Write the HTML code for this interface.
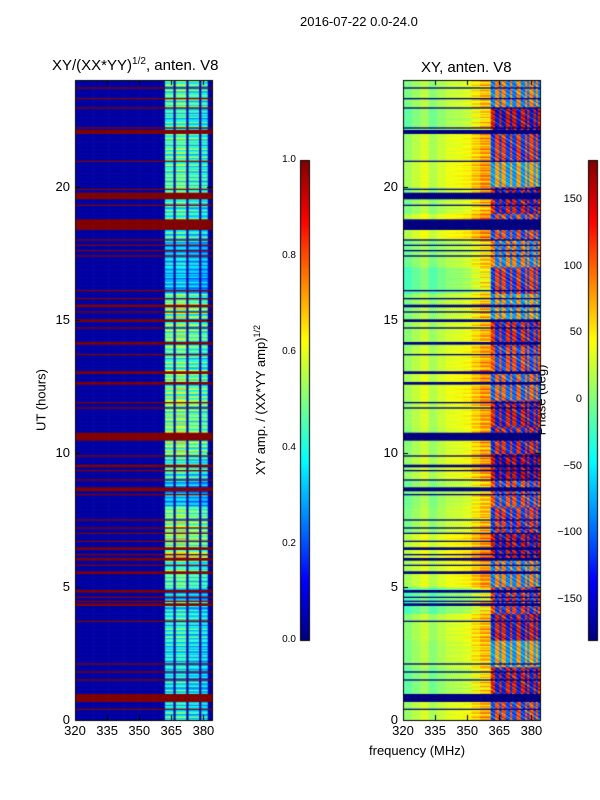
<!DOCTYPE html>
<html><head><meta charset="utf-8">
<style>
body{margin:0;background:#fff;}
#wrap{position:relative;width:600px;height:800px;font-family:"Liberation Sans",sans-serif;color:#000;overflow:hidden;}
.t{position:absolute;white-space:nowrap;}
canvas{position:absolute;}
</style></head>
<body>
<div id="wrap">
<div class="t" style="left:300px;top:14px;font-size:13px;">2016-07-22 0.0-24.0</div>
<div class="t" style="left:52px;top:56px;font-size:15px;">XY/(XX*YY)<sup style="font-size:10px">1/2</sup>, anten. V8</div>
<div class="t" style="left:421px;top:59px;font-size:15px;">XY, anten. V8</div>
<div class="t" style="left:41px;top:400px;font-size:13px;transform:translate(-50%,-50%) rotate(-90deg);">UT (hours)</div>
<div class="t" style="left:369px;top:743px;font-size:13px;">frequency (MHz)</div>
<div class="t" style="left:260px;top:400px;font-size:13px;transform:translate(-50%,-50%) rotate(-90deg);">XY amp. / (XX*YY amp)<sup style="font-size:9px">1/2</sup></div>
<div class="t" style="left:541px;top:400px;font-size:13px;transform:translate(-50%,-50%) rotate(-90deg);">Phase (deg)</div>
<canvas id="c" width="600" height="800" style="left:0;top:0"></canvas>
<div id="labels"></div>
</div>
<script>
// flagged time bands (UT hours start, end)
const bandStart=[23.7,23.3,22.95,22.2,22.0,20.95,19.9,19.55,19.3,18.4,18.0,17.8,17.6,17.4,16.1,15.8,15.5,15.3,14.95,14.7,14.1,13.7,13.0,12.6,11.9,11.7,10.5,9.9,9.5,9.35,9.0,8.6,8.45,7.5,7.2,7.0,6.7,6.4,6.2,6.0,5.8,5.5,4.8,4.6,4.45,4.3,3.7,2.1,1.8,1.5,0.7,0.4];
const bandEnd  =[23.75,23.35,23.0,22.25,22.15,21.0,19.95,19.8,19.35,18.8,18.05,17.85,17.65,17.45,16.15,15.85,15.6,15.35,15.05,14.75,14.2,13.75,13.1,12.7,11.95,11.75,10.8,9.95,9.6,9.4,9.05,8.75,8.5,7.55,7.25,7.05,6.75,6.5,6.25,6.1,5.85,5.6,4.9,4.65,4.5,4.4,3.75,2.15,1.85,1.55,1.0,0.45];
// amplitude per hour in the bright band region
const hourAmp=[0.45,0.4,0.42,0.45,0.4,0.5,0.6,0.55,0.35,0.45,0.55,0.55,0.55,0.5,0.55,0.55,0.35,0.38,0.45,0.45,0.5,0.5,0.45,0.5];
// fine modulation pattern within each hour (20 sub-rows)
const subMod=[1.0,0.7,1.2,0.8,0.6,1.1,0.9,0.7,1.2,0.8,0.9,0.6,1.1,0.75,1.0,0.65,1.15,0.85,0.7,1.05];
// frequency stripe edges (MHz) and stripe levels
const stripeLo=[361.5,367,373,378.5];
const stripeHi=[366,372,378,381.5];
const stripeAmp=[1.0,1.05,0.95,0.9];
// phase: low-freq region phase per hour, high-freq region phase per hour
const phaseLow=[20,0,10,15,-10,25,30,10,5,20,15,20,25,20,15,10,-10,5,30,10,25,20,0,10];
const phaseHigh=[-120,150,-90,-150,130,-100,160,-130,120,170,-140,150,-110,120,140,-90,-130,100,-120,150,-90,-130,160,-100];
const phaseColMod=[-20,0,20,-10,10,25,30,40,70,100];
const highColSign=[1,1,-1,-1,1,-1,-1,1,1,-1,1,1,-1,-1,1,1,-1,1,-1,-1,1,-1,1];

const ctx=document.getElementById('c').getContext('2d');
function jet(v){v=Math.max(0,Math.min(1,v));
 const r=Math.max(0,Math.min(1,1.5-Math.abs(4*v-3)));
 const g=Math.max(0,Math.min(1,1.5-Math.abs(4*v-2)));
 const b=Math.max(0,Math.min(1,1.5-Math.abs(4*v-1)));
 return 'rgb('+Math.round(r*255)+','+Math.round(g*255)+','+Math.round(b*255)+')';}
const P1={x0:75,x1:212},P2={x0:403,x1:540},Y0=720,Y1=80;
const F0=320,F1=384,T0=0,T1=24;
function xs(p,f){return p.x0+(f-F0)/(F1-F0)*(p.x1-p.x0);}
function ys(t){return Y0-(t-T0)/(T1-T0)*(Y0-Y1);}
function flagged(t){for(let i=0;i<bandStart.length;i++)if(t>=bandStart[i]&&t<bandEnd[i])return true;return false;}
const dt=0.05,df=1;
for(let k=0;k<480;k++){
 const t=k*dt, h=Math.floor(t), fl=flagged(t+0.025);
 const sm=subMod[k%20];
 for(let f=F0;f<F1;f+=df){
  let v;
  if(fl) v=1.0; else{
   v=0.035;
   for(let s=0;s<stripeLo.length;s++) if(f>=stripeLo[s]&&f<stripeHi[s]) v=hourAmp[h]*stripeAmp[s]*sm;
  }
  ctx.fillStyle=jet(v);
  ctx.fillRect(xs(P1,f),ys(t+dt),xs(P1,f+df)-xs(P1,f)+0.6,ys(t)-ys(t+dt)+0.6);
  let ph;
  if(fl) ph=-180;
  else if(f<361){ph=phaseLow[h]+phaseColMod[Math.min(9,Math.floor((f-F0)/4))]*(sm-0.3);}
  else ph=phaseHigh[h]*highColSign[Math.floor(f-361)]*subMod[(k+Math.floor(f))%20];
  ph=Math.max(-180,Math.min(180,ph));
  ctx.fillStyle=jet((ph+180)/360);
  ctx.fillRect(xs(P2,f),ys(t+dt),xs(P2,f+df)-xs(P2,f)+0.6,ys(t)-ys(t+dt)+0.6);
 }
}
function cbar(x,w){for(let y=160;y<640;y++){ctx.fillStyle=jet((640-y)/480);ctx.fillRect(x,y,w,1);}ctx.strokeStyle='#000';ctx.lineWidth=1;ctx.strokeRect(x+0.5,160.5,w,480);}
cbar(300,9);cbar(588,9);
ctx.strokeStyle='#000';ctx.lineWidth=1;
[P1,P2].forEach(p=>{
 ctx.strokeRect(p.x0+0.5,Y1+0.5,p.x1-p.x0,Y0-Y1);
 [320,335,350,365,380].forEach(f=>{const x=Math.round(xs(p,f))+0.5;ctx.beginPath();ctx.moveTo(x,Y0);ctx.lineTo(x,Y0-5);ctx.moveTo(x,Y1);ctx.lineTo(x,Y1+5);ctx.stroke();});
 [0,5,10,15,20].forEach(t=>{const y=Math.round(ys(t))+0.5;ctx.beginPath();ctx.moveTo(p.x0,y);ctx.lineTo(p.x0+5,y);ctx.moveTo(p.x1,y);ctx.lineTo(p.x1-5,y);ctx.stroke();});
});
const L=document.getElementById('labels');
function lab(txt,x,y,align,name){const d=document.createElement('div');d.className='t';d.textContent=txt;d.style.fontSize='13px';
 d.style.top=(y-8)+'px';
 if(align==='c'){d.style.left=x+'px';d.style.transform='translateX(-50%)';}
 else if(align==='r'){d.style.right=(600-x)+'px';} else d.style.left=x+'px';
 
 
 L.appendChild(d);}
const xTicks=[320,335,350,365,380];
const yTicks=[0,5,10,15,20];
xTicks.forEach(f=>{lab(String(f),xs(P1,f),731,'c','x-tick-left');lab(String(f),xs(P2,f),731,'c','x-tick-right');});
yTicks.forEach(t=>{lab(String(t),70,ys(t),'r','y-tick-left');lab(String(t),398,ys(t),'r','y-tick-right');});
const cb1Ticks=['0.0','0.2','0.4','0.6','0.8','1.0'];
cb1Ticks.forEach((s,i)=>{const d=document.createElement('div');d.className='t';d.textContent=s;d.style.fontSize='10px';d.style.right=(600-296)+'px';d.style.top=(640-i*96-6)+'px';
 
 
 L.appendChild(d);});
const cb2Ticks=[-150,-100,-50,0,50,100,150];
cb2Ticks.forEach(v=>{const d=document.createElement('div');d.className='t';d.textContent=(v<0?'\u2212'+(-v):String(v));d.style.fontSize='11px';d.style.right=(600-582)+'px';d.style.top=(640-(v+180)/360*480-7)+'px';
 
 
 L.appendChild(d);});
</script>
</body></html>
